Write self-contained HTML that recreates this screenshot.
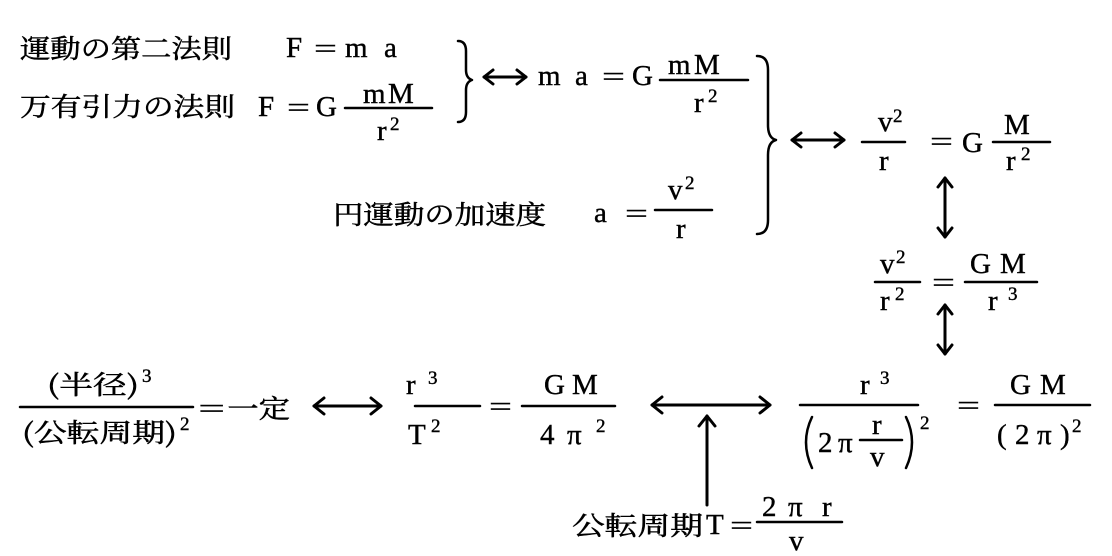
<!DOCTYPE html>
<html><head><meta charset="utf-8"><style>
html,body{margin:0;padding:0;background:#fff;}
svg{display:block;}
text{font-family:"Liberation Serif","Noto Serif CJK SC",serif;fill:#000;font-size:29px;stroke:#000;stroke-width:0.4;}
.j{font-family:"Noto Serif CJK SC","Liberation Serif",serif;font-size:26px;stroke-width:0.5;}
.s{font-size:19px;}
</style></head><body>
<svg width="1112" height="556" viewBox="0 0 1112 556" xmlns="http://www.w3.org/2000/svg">
<g stroke="#000" stroke-width="2.5" fill="none" stroke-linecap="round" stroke-linejoin="round">
<path d="M458,41 Q466,41 466,51 L466,70 Q466,78 472,80 Q466,82 466,90 L466,112 Q466,122 458,122"/>
<path d="M757,56 Q768,56 768,70 L768,125 Q768,138 776,140 Q768,142 768,155 L768,220 Q768,234 757,234"/>
<line x1="345" y1="108" x2="432" y2="108"/>
<line x1="660" y1="80" x2="748" y2="80"/>
<line x1="862" y1="142" x2="905" y2="142"/>
<line x1="993" y1="142" x2="1050" y2="142"/>
<line x1="655" y1="210" x2="712" y2="210"/>
<line x1="875" y1="282" x2="920" y2="282"/>
<line x1="965" y1="282" x2="1037" y2="282"/>
<line x1="20" y1="407" x2="193" y2="407"/>
<line x1="415" y1="406" x2="480" y2="406"/>
<line x1="522" y1="406" x2="615" y2="406"/>
<line x1="800" y1="405" x2="918" y2="405"/>
<line x1="860" y1="440" x2="902" y2="440"/>
<line x1="995" y1="405" x2="1090" y2="405"/>
<line x1="757" y1="522" x2="842" y2="522"/>
<path d="M812,417 Q800,442 812,468"/>
<path d="M906,417 Q918,442 906,468"/>
</g>
<g stroke="#000" stroke-width="3" fill="none" stroke-linecap="round" stroke-linejoin="round">
<line x1="484" y1="77" x2="526" y2="77"/><path d="M493,70 L484,77 L493,84 M517,70 L526,77 L517,84"/>
<line x1="792" y1="140" x2="844" y2="140"/><path d="M801,133 L792,140 L801,147 M835,133 L844,140 L835,147"/>
<line x1="945" y1="178" x2="945" y2="237"/><path d="M938,187 L945,178 L952,187 M938,228 L945,237 L952,228"/>
<line x1="945" y1="305" x2="945" y2="354"/><path d="M938,314 L945,305 L952,314 M938,345 L945,354 L952,345"/>
<line x1="314" y1="406" x2="381" y2="406"/><path d="M324,398 L314,406 L324,414 M371,398 L381,406 L371,414"/>
<line x1="652" y1="405" x2="770" y2="405"/><path d="M662,397 L652,405 L662,413 M760,397 L770,405 L760,413"/>
<line x1="707" y1="416" x2="707" y2="505"/><path d="M699,426 L707,416 L715,426"/>
</g>
<text class="j" x="20" y="58" textLength="212" lengthAdjust="spacingAndGlyphs">運動の第二法則</text>
<text x="286" y="57">F</text><text class="j" x="312" y="58" textLength="27" lengthAdjust="spacingAndGlyphs">＝</text><text x="345" y="57">m</text><text x="384" y="57">a</text>
<text class="j" x="20" y="116" textLength="215" lengthAdjust="spacingAndGlyphs">万有引力の法則</text>
<text x="258" y="116">F</text><text class="j" x="285" y="117" textLength="27" lengthAdjust="spacingAndGlyphs">＝</text><text x="316" y="116">G</text>
<text x="363" y="103">m</text><text x="388" y="103">M</text>
<text x="377" y="140">r</text><text x="390" y="130" class="s">2</text>
<text x="538" y="85">m</text><text x="575" y="85">a</text><text class="j" x="600" y="86" textLength="27" lengthAdjust="spacingAndGlyphs">＝</text><text x="632" y="85">G</text>
<text x="668" y="74">m</text><text x="694" y="74">M</text>
<text x="694" y="112">r</text><text x="708" y="102" class="s">2</text>
<text x="878" y="131">v</text><text x="893" y="122" class="s">2</text>
<text x="879" y="170">r</text>
<text class="j" x="928" y="151" textLength="27" lengthAdjust="spacingAndGlyphs">＝</text><text x="962" y="152">G</text>
<text x="1004" y="134">M</text>
<text x="1006" y="170">r</text><text x="1021" y="160" class="s">2</text>
<text class="j" x="333" y="224" textLength="213" lengthAdjust="spacingAndGlyphs">円運動の加速度</text>
<text x="594" y="222">a</text><text class="j" x="623" y="223" textLength="27" lengthAdjust="spacingAndGlyphs">＝</text>
<text x="668" y="199">v</text><text x="685" y="189" class="s">2</text>
<text x="676" y="238">r</text>
<text x="880" y="273">v</text><text x="896" y="263" class="s">2</text>
<text x="880" y="310">r</text><text x="895" y="300" class="s">2</text>
<text class="j" x="930" y="292" textLength="27" lengthAdjust="spacingAndGlyphs">＝</text>
<text x="970" y="273">G</text><text x="1000" y="273">M</text>
<text x="988" y="310">r</text><text x="1008" y="300" class="s">3</text>
<text class="j" x="47" y="394" textLength="92" lengthAdjust="spacingAndGlyphs">(半径)</text><text x="142" y="382" class="s">3</text>
<text class="j" x="22" y="442" textLength="155" lengthAdjust="spacingAndGlyphs">(公転周期)</text><text x="180" y="430" class="s">2</text>
<text class="j" x="196" y="418" textLength="94" lengthAdjust="spacingAndGlyphs">＝一定</text>
<text x="406" y="394">r</text><text x="428" y="384" class="s">3</text>
<text x="408" y="444">T</text><text x="431" y="432" class="s">2</text>
<text class="j" x="487" y="416" textLength="27" lengthAdjust="spacingAndGlyphs">＝</text>
<text x="544" y="394">G</text><text x="572" y="394">M</text>
<text x="540" y="444">4</text><text x="567" y="444">π</text><text x="596" y="432" class="s">2</text>
<text x="860" y="394">r</text><text x="880" y="384" class="s">3</text>
<text x="818" y="452">2</text><text x="838" y="452">π</text>
<text x="872" y="434">r</text><text x="870" y="466">v</text>
<text x="920" y="429" class="s">2</text>
<text class="j" x="955" y="415" textLength="27" lengthAdjust="spacingAndGlyphs">＝</text>
<text x="1010" y="394">G</text><text x="1040" y="394">M</text>
<text x="997" y="444">(</text><text x="1015" y="444">2</text><text x="1037" y="444">π</text><text x="1060" y="444">)</text><text x="1072" y="432" class="s">2</text>
<text class="j" x="572" y="535" textLength="131" lengthAdjust="spacingAndGlyphs">公転周期</text>
<text x="706" y="534">T</text><text class="j" x="728" y="535" textLength="27" lengthAdjust="spacingAndGlyphs">＝</text>
<text x="762" y="516">2</text><text x="788" y="516">π</text><text x="822" y="516">r</text>
<text x="789" y="550">v</text>
</svg>
</body></html>
